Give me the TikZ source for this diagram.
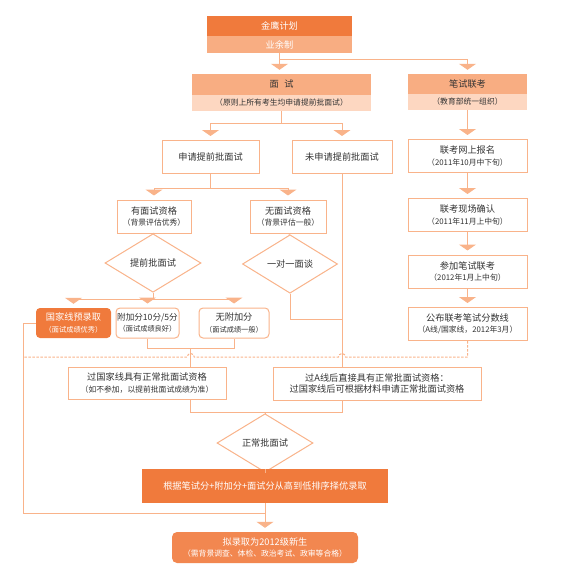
\documentclass[tikz,border=0pt]{standalone}
\usepackage{fontspec}
\setmainfont{Noto Sans CJK SC}
\usetikzlibrary{arrows.meta, positioning, shapes.geometric, calc}

\definecolor{lineOr}{HTML}{F9B38A}
\definecolor{darkOr}{HTML}{F07A3C}
\definecolor{midOr}{HTML}{F8AD82}
\definecolor{paleOr}{HTML}{FDD7C1}
\definecolor{textGr}{HTML}{333333}

\newcommand{\subtxt}[1]{{\fontsize{7.8}{10}\selectfont #1}}
\newcommand{\tinytxt}[1]{{\fontsize{7.2}{9.5}\selectfont #1}}

\begin{document}
\begin{tikzpicture}[
    x=1pt, y=-1pt,
    every node/.style={font=\fontsize{9.2}{11.5}\selectfont, text=textGr, align=center, inner sep=1pt},
    stepbox/.style={rectangle, draw=lineOr, fill=white, line width=1pt, minimum width=#1, minimum height=33pt},
    roundbox/.style={stepbox=#1, rounded corners=4pt, minimum height=30pt},
    hotbox/.style={rectangle, fill=darkOr, text=white, minimum width=#1, minimum height=34pt},
    headbox/.style={rectangle, minimum width=#1, minimum height=20pt},
    choice/.style={diamond, draw=lineOr, fill=white, line width=1pt, minimum width=96pt, minimum height=39pt},
    link/.style={draw=lineOr, line width=1pt},
    flow/.style={link, -{Triangle[width=17pt,length=6pt]}, shorten >=4pt},
    dashlink/.style={link, dash pattern=on 2.5pt off 1.5pt}
]
    \useasboundingbox (0,0) rectangle (570,583);

    % Headers
    \node[headbox=145pt, fill=darkOr, text=white] (jyA) at (279.5,26) {金鹰计划};
    \node[headbox=145pt, minimum height=17pt, fill=midOr, text=white] (jyB) at (279.5,44.5) {业余制};
    \node[headbox=179pt, minimum height=21pt, fill=midOr] (msA) at (281.5,84.5) {面\hspace{0.6em}试};
    \node[headbox=179pt, minimum height=16pt, fill=paleOr] (msB) at (281.5,103) {\subtxt{（原则上所有考生均申请提前批面试）}};
    \node[headbox=119pt, fill=midOr] (bsA) at (467.5,84) {笔试联考};
    \node[headbox=119pt, minimum height=16pt, fill=paleOr] (bsB) at (467.5,102) {\subtxt{（教育部统一组织）}};

    % Interview branch
    \node[stepbox=97pt] (sq) at (210.5,157) {申请提前批面试};
    \node[stepbox=100pt] (wsq) at (342,157) {未申请提前批面试};
    \node[stepbox=74pt] (yms) at (154,216.5) {有面试资格\\\subtxt{（背景评估优秀）}};
    \node[stepbox=76pt] (wms) at (288,216.5) {无面试资格\\\subtxt{（背景评估一般）}};
    \node[choice] (tqp) at (153,263) {提前批面试};
    \node[choice, minimum width=95pt, minimum height=38pt] (ydy) at (290,264) {一对一面谈};
    \node[hotbox=75pt, minimum height=30pt, rounded corners=4pt] (gjx) at (73.5,323) {国家线预录取\\\tinytxt{（面试成绩优秀）}};
    \node[roundbox=63pt, font=\fontsize{8.6}{11}\selectfont] (fjf) at (147.5,323) {附加分10分/5分\\\tinytxt{（面试成绩良好）}};
    \node[roundbox=70pt] (wfj) at (234,323) {无附加分\\\tinytxt{（面试成绩一般）}};

    % Written exam branch
    \node[stepbox=119pt] (wsbm) at (467.5,156) {联考网上报名\\\subtxt{（2011年10月中下旬）}};
    \node[stepbox=119pt] (xcqr) at (467.5,215) {联考现场确认\\\subtxt{（2011年11月上中旬）}};
    \node[stepbox=119pt] (cjbs) at (467.5,271.5) {参加笔试联考\\\subtxt{（2012年1月上中旬）}};
    \node[stepbox=119pt] (gbfs) at (467.5,324) {公布联考笔试分数线\\\subtxt{（A线/国家线，2012年3月）}};

    % Regular admission
    \node[stepbox=158pt, minimum height=32pt] (ggjx) at (147,383) {过国家线具有正常批面试资格\\\subtxt{（如不参加，以提前批面试成绩为准）}};
    \node[stepbox=208pt] (gA) at (377,383.5) {过A线后直接具有正常批面试资格：\\过国家线后可根据材料申请正常批面试资格};
    \node[choice] (zcp) at (265,443) {正常批面试};
    \node[hotbox=246pt] (gj) at (265,486) {根据笔试分+附加分+面试分从高到低排序择优录取};
    \node[hotbox=186pt, minimum height=31pt, rounded corners=5pt, fill=darkOr!90!white] (nlq) at (265,547.5) {拟录取为2012级新生\\\subtxt{（需背景调查、体检、政治考试、政审等合格）}};

    % Connectors, top
    \draw[flow] (jyB.south) -- (jyB.south |- msA.north);
    \draw[flow] (jyB.south) ++(0,6) -| (bsA.north);
    \draw[link] (msB.south) -- ++(0,12) coordinate (msj);
    \draw[flow] (msj) -| (sq.north);
    \draw[flow] (msj) -| (wsq.north);
    \draw[link] (sq.south) -- ++(0,14) coordinate (sqj);
    \draw[flow] (sqj) -| (yms.north);
    \draw[flow] (sqj) -| (wms.north);
    \draw[link] (yms.south) -- (tqp.north);
    \draw[link] (wms.south) -- (ydy.north);
    \draw[link] (tqp.south) -- ++(0,7) coordinate (tqj);
    \foreach \t in {gjx, fjf, wfj}
        \draw[flow] (tqj) -| (\t.north);

    % Right column
    \foreach \a/\b in {bsB/wsbm, wsbm/xcqr, xcqr/cjbs, cjbs/gbfs}
        \draw[flow] (\a.south) -- (\b.north);

    % Merging lines
    \draw[link] (wsq.south) -- (wsq.south |- gA.north);
    \draw[link] (ydy.south) |- ($(wsq.south)+(0,145)$);
    \draw[link] (fjf.south) -- ++(0,10) -| (wfj.south);
    \coordinate (fjm) at ($(fjf.south)!0.5!(wfj.south)+(0,10)$);
    \draw[link] (fjm) -- (fjm |- ggjx.north);
    \draw[link] (gjx.west) -- ++(-12,0) coordinate (lft) |- ($(gj.south)+(0,10)$);
    \coordinate (dsh) at ($(gbfs.south)+(0,16)$);
    \draw[dashlink] (gbfs.south) -- (dsh)
        -- ($(wsq.south |- dsh)+(3.5,0)$) arc[start angle=0, end angle=180, radius=3.5pt]
        -- ($(fjm |- dsh)+(3.5,0)$) arc[start angle=0, end angle=180, radius=3.5pt]
        -- (lft |- dsh);
    \draw[link] (fjm |- ggjx.south) -- ++(0,13) coordinate (gxj)
        -- (gxj -| wsq.south) -- (wsq.south |- gA.south);
    \draw[link] (zcp.north) -- (zcp.north |- gxj);
    \draw[link] (zcp.south) -- (gj.north);
    \draw[flow] (gj.south) -- (nlq.north);

\end{tikzpicture}
\end{document}
